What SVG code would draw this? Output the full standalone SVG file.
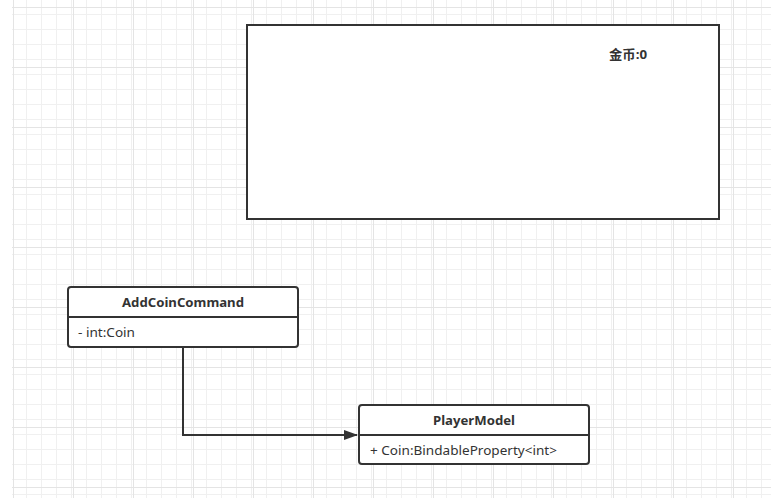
<svg xmlns="http://www.w3.org/2000/svg" width="771" height="498" viewBox="0 0 771 498">
<defs>
<pattern id="minor" x="13" y="7" width="15" height="15" patternUnits="userSpaceOnUse">
<path d="M0.5 0V15M0 0.5H15" fill="none" stroke="#f0f0f0" stroke-width="1"/>
</pattern>
<pattern id="major" x="13" y="7" width="60" height="60" patternUnits="userSpaceOnUse">
<rect width="60" height="60" fill="url(#minor)"/>
<path d="M0.5 0V60M0 0.5H60" fill="none" stroke="#e4e4e4" stroke-width="1"/>
</pattern>
<marker id="arrow" markerWidth="14" markerHeight="10" refX="13" refY="5" orient="auto" markerUnits="userSpaceOnUse">
<path d="M0 0L14 5L0 10Z" fill="#333"/>
</marker>
<style>
.box{fill:#fff;stroke:#333;stroke-width:2}
.div{stroke:#333;stroke-width:2}
.t{font-family:"Noto Sans","Noto Sans CJK SC",sans-serif;font-size:13px;fill:#333}
.b{font-weight:bold}
.line{fill:none;stroke:#333;stroke-width:2}
</style>
</defs>
<rect width="771" height="498" fill="#fff"/>
<rect x="12" y="0" width="759" height="498" fill="url(#major)"/>
<g id="screen">
<rect class="box" x="247" y="25" width="472" height="194"/>
<text class="t b" x="609" y="59" textLength="38" lengthAdjust="spacingAndGlyphs" font-family="'Noto Sans CJK SC',sans-serif">金币:0</text>
</g>
<g id="addcoincommand">
<rect class="box" x="68" y="287" width="230" height="60" rx="3"/>
<line class="div" x1="68" y1="317" x2="298" y2="317"/>
<text class="t b" x="122" y="307" textLength="122" lengthAdjust="spacingAndGlyphs">AddCoinCommand</text>
<text class="t" x="78" y="337" textLength="57" lengthAdjust="spacingAndGlyphs">- int:Coin</text>
</g>
<g id="playermodel">
<rect class="box" x="359" y="405" width="230" height="59" rx="3"/>
<line class="div" x1="359" y1="435" x2="589" y2="435"/>
<text class="t b" x="433" y="425" textLength="82" lengthAdjust="spacingAndGlyphs">PlayerModel</text>
<text class="t" x="370" y="455" textLength="187" lengthAdjust="spacingAndGlyphs">+ Coin:BindableProperty&lt;int&gt;</text>
</g>
<g id="connectors">
<path class="line" d="M183 347V435H357" marker-end="url(#arrow)"/>
</g>
</svg>
